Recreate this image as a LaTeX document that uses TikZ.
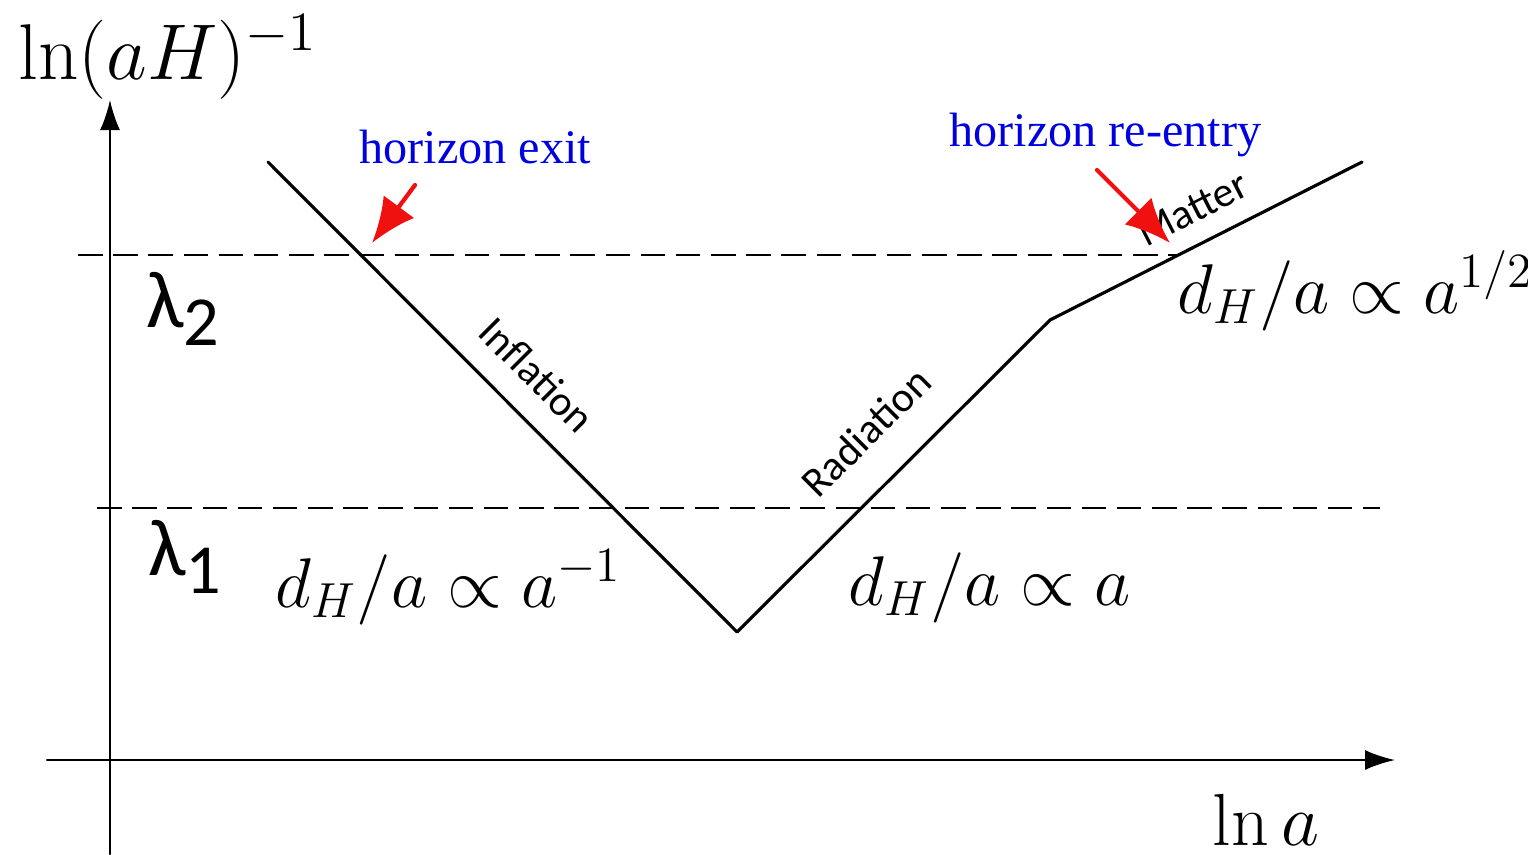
\RequirePackage{fix-cm}
\documentclass[tikz,border=0pt]{standalone}
\usepackage{amsmath,amssymb}
\usepackage[no-math]{fontspec}
\setmainfont{Liberation Serif}
\newfontfamily\calfont{Carlito}
\usepackage{xcolor}
\usetikzlibrary{arrows.meta,positioning}
\definecolor{labelblue}{HTML}{0000E0}
\definecolor{pointred}{HTML}{F01010}
\tikzset{
    every picture/.style={line cap=round,line join=round},
    axisline/.style={-{Latex[length=3mm,width=2mm]},line width=0.6pt},
    epochline/.style={line width=0.9pt},
    scaleline/.style={line width=0.6pt,line cap=butt,dash pattern=on 7pt off 3pt},
    markarrow/.style={-{Latex[length=4.5mm,width=3.8mm]},draw=pointred,line width=1.2pt},
    eventlabel/.style={text=labelblue,font=\fontsize{13.7}{16}\selectfont,inner sep=0pt,anchor=base west},
    mathlabel/.style={font=\fontsize{20}{24}\selectfont,inner sep=0pt,anchor=base west},
    epochlabel/.style={font=\calfont\fontsize{12}{14}\selectfont,inner sep=0pt},
    scalelabel/.style={font=\calfont\fontsize{23}{26}\selectfont,inner sep=0pt}
}

\begin{document}
\begin{tikzpicture}[x=0.01cm,y=-0.01cm]
  \useasboundingbox (0,0) rectangle (1528,854);
  % axes
  \coordinate (yfoot) at (110,854);
  \coordinate (ytip) at (110,100);
  \coordinate (xfoot) at (47,760);
  \coordinate (xtip) at (1395,760);
  \draw[axisline] (yfoot) -- (ytip);
  \draw[axisline] (xfoot) -- (xtip);
  \node[mathlabel,font=\fontsize{22.5}{27}\selectfont] (ylab) at (18,79) {$\ln(aH)^{-1}$};
  \node[mathlabel,font=\fontsize{21}{25}\selectfont] (xlab) at (1212,845) {$\ln a$};

  % the two scales
  \coordinate (twostart) at (78,255);
  \coordinate (twoend) at (1178,255);
  \coordinate (onestart) at (97,508);
  \coordinate (oneend) at (1380,508);
  \draw[scaleline] (twostart) -- (twoend);
  \draw[scaleline] (onestart) -- (oneend);
  \node[scalelabel] (lamtwo) at (183,309) {λ\raisebox{-5pt}{\fontsize{20}{22}\selectfont 2}};
  \node[scalelabel] (lamone) at (185,557) {λ\raisebox{-5pt}{\fontsize{20}{22}\selectfont 1}};

  % comoving Hubble length
  \coordinate (start) at (268,162);
  \coordinate (bottom) at (737,632);
  \coordinate (equality) at (1050,320);
  \coordinate (today) at (1362,162);
  \draw[epochline] (start) -- (bottom) -- (equality) -- (today);
  \node[epochlabel,rotate=-45] (infl) at (537,375) {Inflation};
  \node[epochlabel,rotate=45] (rad) at (866,432) {Radiation};
  \node[epochlabel,rotate=27] (mat) at (1193,209) {Matter};

  \node[mathlabel] (infllaw) at (275,607) {$d_H/a\propto a^{-1}$};
  \node[mathlabel] (radlaw) at (848,605) {$d_H/a\propto a$};
  \node[mathlabel] (matlaw) at (1177,313) {$d_H/a\propto a^{1/2}$};

  % crossings
  \node[eventlabel] (exit) at (359,163) {horizon exit};
  \node[eventlabel] (reentry) at (949,146) {horizon re-entry};
  \coordinate (exittail) at (415,185);
  \coordinate (exithead) at (372,243);
  \coordinate (reentrytail) at (1097,170);
  \coordinate (reentryhead) at (1170,243);
  \draw[markarrow] (exittail) -- (exithead);
  \draw[markarrow] (reentrytail) -- (reentryhead);
\end{tikzpicture}
\end{document}
